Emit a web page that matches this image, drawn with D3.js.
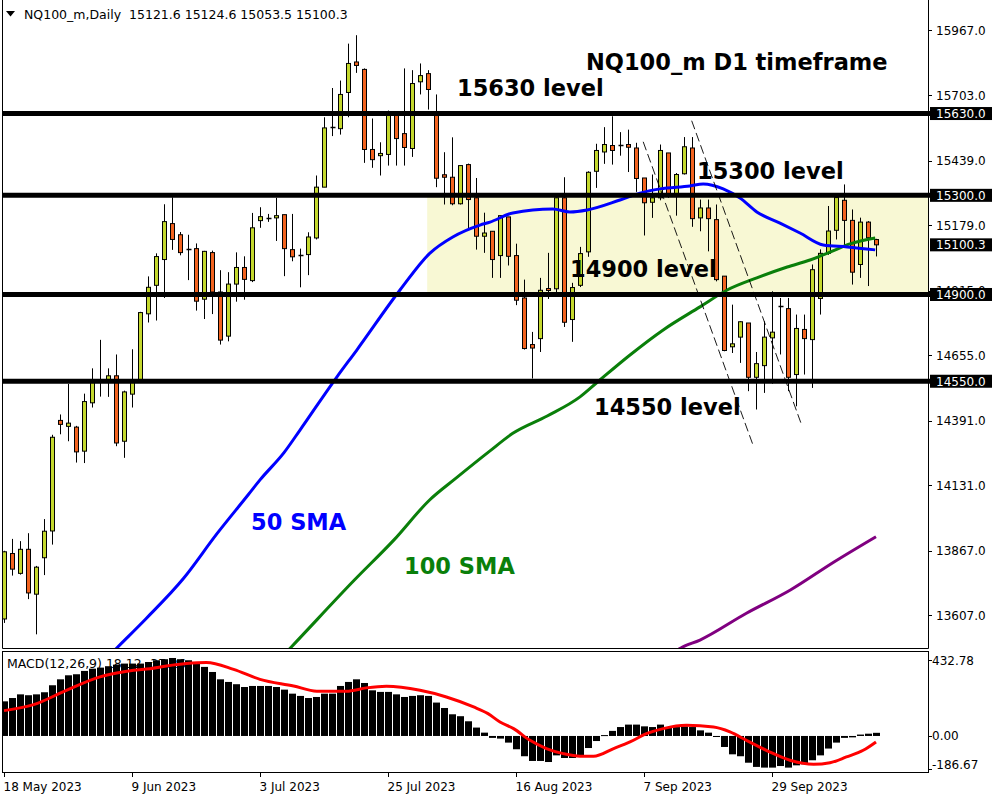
<!DOCTYPE html>
<html><head><meta charset="utf-8">
<script src="https://cdn.jsdelivr.net/npm/d3@7"></script>
<style>body{margin:0;background:#fff}svg{display:block}</style>
</head><body>
<svg id="c" width="1000" height="800"></svg>
<script>
// ---------------- DATA ----------------
const dateLabels = ["18 May 2023","9 Jun 2023","3 Jul 2023","25 Jul 2023","16 Aug 2023","7 Sep 2023","29 Sep 2023"];
const dateTickIdx = [0,16,32,48,64,80,96];

const open  = [13591,13855,13775,13872,13691,13838,13946,14392,14368,14365,14268,14463,14548,14552,14572,14308,14498,14551,14822,14937,
15041,15186,15141,15082,15085,14881,15069,14910,14732,14942,15009,14956,15198,15206,15209,15222,15081,15060,15061,15128,
15333,15576,15569,15715,15838,15808,15485,15460,15465,15626,15549,15489,15758,15791,15622,15383,15373,15266,15424,15290,
15135,15155,15057,15213,15057,14886,14698,14722,14924,14923,15290,14799,14937,15072,15397,15475,15501,15501,15505,15491,
15370,15272,15290,15471,15300,15387,15491,15209,15249,15202,14974,14689,14728,14785,14566,14613,14725,14853,14843,14577,
14759,14718,14884,15066,15159,15280,15199,15021,15192,15121.6];
const high  = [13866,13914,13905,13937,13805,13994,14334,14416,14539,14370,14500,14602,14717,14602,14658,14512,14679,14830,14973,15066,
15264,15292,15152,15141,15106,15076,15077,14998,14990,15070,15054,15229,15252,15225,15290,15222,15225,15085,15151,15380,
15615,15733,15763,15912,15946,15812,15610,15514,15642,15639,15812,15805,15832,15805,15707,15474,15534,15420,15428,15370,
15230,15155,15218,15213,15105,14960,14749,14967,15068,15292,15373,14947,15092,15397,15508,15575,15619,15555,15565,15512,
15370,15384,15505,15471,15390,15535,15535,15283,15283,15263,14974,14859,14792,14785,14668,14792,14913,14886,14886,14819,
14819,15021,15082,15257,15295,15344,15243,15210,15196,15124.6];
const low   = [13575,13766,13770,13671,13529,13768,13891,14336,14308,14222,14220,14444,14488,14487,14288,14241,14444,14551,14787,14795,
14886,15080,15058,14958,14835,14801,14821,14698,14711,14871,14879,14950,15169,15193,15116,14974,15034,14929,14978,15122,
15333,15539,15545,15615,15794,15431,15411,15380,15420,15420,15420,15455,15707,15646,15333,15263,15260,15263,15159,15081,
15068,14967,14967,15017,14857,14678,14561,14668,14882,14906,14769,14709,14930,15052,15330,15427,15424,15460,15394,15314,
15138,15209,15280,15290,15218,15384,15173,15155,15074,14953,14671,14664,14624,14510,14436,14503,14540,14658,14510,14449,
14577,14523,14819,15060,15122,15098,14940,14967,14934,15053.5];
const close = [13862,13792,13872,13696,13800,13945,14324,14376,14381,14265,14468,14551,14549,14572,14301,14507,14551,14827,14929,15053,
15194,15122,15069,15083,14873,15074,14910,14716,14942,15009,14961,15169,15214,15207,15218,15085,15052,15061,15132,15333,
15572,15577,15707,15832,15824,15485,15444,15469,15626,15529,15493,15751,15783,15727,15369,15373,15266,15420,15283,15135,
15148,15041,15218,15054,14877,14682,14684,14917,14916,15290,14788,14928,15065,15393,15481,15505,15481,15502,15494,15368,
15270,15290,15481,15300,15384,15496,15206,15249,15206,14960,14674,14701,14790,14566,14621,14728,14748,14853,14566,14763,
14722,15000,15066,15156,15291,15199,14990,15192,15129,15100.3];

const priceTicks = [15967,15703,15439,15179,14915,14655,14391,14131,13867,13607];
const levels = [15630,15300,14900,14550];
const levelTexts = ["15630 level","15300 level","14900 level","14550 level"];
const lastPrice = 15100.3;
const zoneStartIdx = 52.9, zoneTop = 15300, zoneBottom = 14900;

const sma50Idx = [12,14.1,17.75,22.4,26.6,30.6,32,35,37,41.6,44.1,49.5,53.25,56.1,59.5,60.75,63.6,68.6,70.75,72.9,77,79.5,82,85.75,87.4,89.9,92,94.1,97,99.5,102.4,105.4,108.9];
const sma50Val = [13405,13474,13592,13753,13934,14095,14152,14262,14353,14567,14676,14918,15067,15132,15180,15192,15229,15245,15233,15241,15281,15309,15326,15338,15346,15326,15289,15233,15188,15148,15100,15092,15080];
const sma100Idx = [34.5,35.8,43.8,48.75,53.2,56.5,60.75,63.6,67.9,72,74.3,78.25,82.4,87,90.4,94.1,97.9,100.75,103.25,105.75,108.9];
const sma100Val = [13430,13474,13748,13910,14071,14159,14269,14340,14410,14487,14550,14656,14757,14850,14918,14967,15011,15039,15071,15104,15128];
const sma200Idx = [83,84.6,87,92.8,98.3,103.8,109];
const sma200Val = [13440,13474,13506,13614,13708,13822,13923];

const trendA = [[79.9,15516],[93.7,14286]];
const trendB = [[85.96,15601],[99.7,14374]];

const macdHist = [198,217,238,233,238,250,290,324,347,353,372,385,391,399,408,414,414,414,423,433,
439,446,439,433,420,395,366,324,309,296,280,286,286,286,280,265,242,229,217,223,
242,242,286,309,324,303,261,252,252,238,223,229,233,229,191,160,124,113,84,48,
19,-11,-15,-38,-76,-116,-143,-143,-149,-111,-126,-126,-111,-69,-29,5,29,51,65,65,
55,51,65,51,51,55,51,32,19,-6,-63,-105,-116,-153,-177,-181,-181,-172,-181,-168,
-162,-139,-111,-72,-38,-11,-8,8,13,18];
const signalIdx = [0,3.7,7.8,12,14.1,16.2,18.25,20.3,22.8,25.3,28.7,32,36.2,39.1,42.8,45.3,47.8,52,55.3,58.7,60.5,62,63.7,65.75,67.8,69.9,72,73.7,76.2,78.25,80.3,82.4,85.3,88.7,90.75,92.8,95.75,98.25,101.2,103.25,105.3,107.4,109];
const signalVal = [145,179,261,338,360,376,385,400,414,420,381,324,286,256,256,275,284,261,223,166,128,80,42,-25,-72,-101,-116,-116,-72,-34,13,42,61,51,23,-25,-92,-139,-162,-153,-120,-82,-34];
const macdTicks = [432.78, 0, -186.67];

// ---------------- SCALES ----------------
const svg = d3.select("#c");
const x = d3.scaleLinear().domain([0,109]).range([4,876]);
const y = d3.scaleLinear().domain([13607,15967]).range([615,30]);
const yM = d3.scaleLinear().domain([-186.67,432.78]).range([768.6,660.3]);
const PL=2.5, PR=928.5, PB=648.5, MT=651.5, MB=772.5;
const BULL="#C4D82E", BEAR="#F2631F";

svg.append("rect").attr("width",1000).attr("height",800).attr("fill","#fff");
const defs = svg.append("defs");
defs.append("clipPath").attr("id","cp").append("rect").attr("x",3).attr("y",0).attr("width",925).attr("height",648);
defs.append("clipPath").attr("id","cm").append("rect").attr("x",3).attr("y",652).attr("width",925).attr("height",120);

const P = svg.append("g").attr("clip-path","url(#cp)");

// zone
P.append("rect").attr("x",x(zoneStartIdx)).attr("y",y(zoneTop))
 .attr("width",PR-x(zoneStartIdx)).attr("height",y(zoneBottom)-y(zoneTop)).attr("fill","#F8F8D4");

// candles
const idx = d3.range(open.length);
const cg = P.append("g");
idx.forEach(i=>{
  const cx = Math.round(x(i))+0.5;
  cg.append("line").attr("x1",cx).attr("x2",cx).attr("y1",y(high[i])).attr("y2",y(low[i]))
    .attr("stroke","#000").attr("stroke-width",1);
  const top = y(Math.max(open[i],close[i])), bot = y(Math.min(open[i],close[i]));
  const h = bot-top;
  if (h < 1.5) {
    cg.append("line").attr("x1",cx-2).attr("x2",cx+3).attr("y1",Math.round(top)+0.5).attr("y2",Math.round(top)+0.5)
      .attr("stroke","#000").attr("stroke-width",1.5);
  } else {
    cg.append("rect").attr("x",cx-2).attr("y",top).attr("width",4).attr("height",h)
      .attr("fill", close[i]>=open[i]?BULL:BEAR).attr("stroke","#000").attr("stroke-width",1);
  }
});

// moving averages
const lineGen = d3.line().x(d=>x(d[0])).y(d=>y(d[1])).curve(d3.curveMonotoneX);
P.append("path").attr("d",lineGen(d3.zip(sma200Idx,sma200Val))).attr("fill","none").attr("stroke","#800080").attr("stroke-width",3);
P.append("path").attr("d",lineGen(d3.zip(sma100Idx,sma100Val))).attr("fill","none").attr("stroke","#0A7F0A").attr("stroke-width",3);
P.append("path").attr("d",lineGen(d3.zip(sma50Idx,sma50Val))).attr("fill","none").attr("stroke","#0000FF").attr("stroke-width",3);

// levels
levels.forEach(v=>{
  svg.append("line").attr("x1",3).attr("x2",931).attr("y1",y(v)).attr("y2",y(v)).attr("stroke","#000").attr("stroke-width",5);
});

// trend lines
[trendA,trendB].forEach(t=>{
  P.append("line").attr("x1",x(t[0][0])).attr("y1",y(t[0][1])).attr("x2",x(t[1][0])).attr("y2",y(t[1][1]))
   .attr("stroke","#000").attr("stroke-width",0.9).attr("stroke-dasharray","9,4");
});

// annotations
const bold = (t,px,py,col)=>svg.append("text").text(t).attr("x",px).attr("y",py)
  .attr("font-family","DejaVu Sans").attr("font-weight","bold").attr("font-size","22.5px").attr("fill",col||"#000");
bold("NQ100_m D1 timeframe",586,69.5);
bold(levelTexts[0],457,y(levels[0])-18);
bold(levelTexts[1],697,y(levels[1])-16);
bold(levelTexts[2],570,y(levels[2])-17.5);
bold(levelTexts[3],594,y(levels[3])+34);
bold("50 SMA",251,529.5,"#0000FF");
bold("100 SMA",404,573.5,"#0A7F0A");

// header
svg.append("path").attr("d","M6,11 L15,11 L10.5,16.5 Z").attr("fill","#000");
svg.append("text").text("NQ100_m,Daily  "+[open[109],high[109],low[109],close[109]].map(v=>v.toFixed(1)).join(" "))
  .attr("x",24).attr("y",19).attr("font-family","DejaVu Sans").attr("font-size","12.5px").attr("fill","#000")
  .attr("xml:space","preserve").style("white-space","pre");

// panel borders
svg.append("path").attr("d",`M${PL},0 V${PB} H${PR} V0`).attr("fill","none").attr("stroke","#000").attr("stroke-width",1);
svg.append("rect").attr("x",PL).attr("y",MT).attr("width",PR-PL).attr("height",MB-MT).attr("fill","none").attr("stroke","#000").attr("stroke-width",1);

// price axis
const lab = (t,py)=>svg.append("text").text(t).attr("x",936).attr("y",py+4.5)
  .attr("font-family","DejaVu Sans").attr("font-size","12px").attr("fill","#000");
priceTicks.forEach(v=>{
  svg.append("line").attr("x1",928).attr("x2",932).attr("y1",Math.round(y(v))+0.5).attr("y2",Math.round(y(v))+0.5).attr("stroke","#000");
  lab(v.toFixed(1),y(v));
});
levels.concat([lastPrice]).forEach(v=>{
  svg.append("rect").attr("x",930).attr("y",y(v)-6.5).attr("width",62).attr("height",13).attr("fill","#000");
  svg.append("text").text(v.toFixed(1)).attr("x",936).attr("y",y(v)+4.5)
    .attr("font-family","DejaVu Sans").attr("font-size","12px").attr("fill","#fff");
});

// MACD panel
const M = svg.append("g").attr("clip-path","url(#cm)");
M.append("text").text("MACD(12,26,9) 18.12 -37.26").attr("x",7).attr("y",668)
  .attr("font-family","DejaVu Sans").attr("font-size","12.5px").attr("fill","#000");
M.selectAll("rect.h").data(macdHist).join("rect").attr("class","h")
  .attr("x",(d,i)=>Math.round(x(i))-3).attr("width",7)
  .attr("y",d=>Math.min(yM(d),yM(0))).attr("height",d=>Math.max(1,Math.abs(yM(d)-yM(0))))
  .attr("fill","#000");
const sigGen = d3.line().x(d=>x(d[0])).y(d=>yM(d[1])).curve(d3.curveMonotoneX);
M.append("path").attr("d",sigGen(d3.zip(signalIdx,signalVal))).attr("fill","none").attr("stroke","#FF0000").attr("stroke-width",3);

macdTicks.forEach(v=>{
  const py = Math.min(yM(v),764);
  svg.append("line").attr("x1",928).attr("x2",932).attr("y1",Math.round(yM(v))+0.5).attr("y2",Math.round(yM(v))+0.5).attr("stroke","#000");
  svg.append("text").text(v.toFixed(2)).attr("x",932).attr("y",py+4.5)
    .attr("font-family","DejaVu Sans").attr("font-size","12px").attr("fill","#000");
});

// date axis
dateTickIdx.forEach((d,k)=>{
  const px = Math.round(x(d))+0.5;
  svg.append("line").attr("x1",px).attr("x2",px).attr("y1",772).attr("y2",777).attr("stroke","#000");
  svg.append("text").text(dateLabels[k]).attr("x",px-1).attr("y",790.5)
    .attr("font-family","DejaVu Sans").attr("font-size","12px").attr("fill","#000");
});
</script>
</body></html>
